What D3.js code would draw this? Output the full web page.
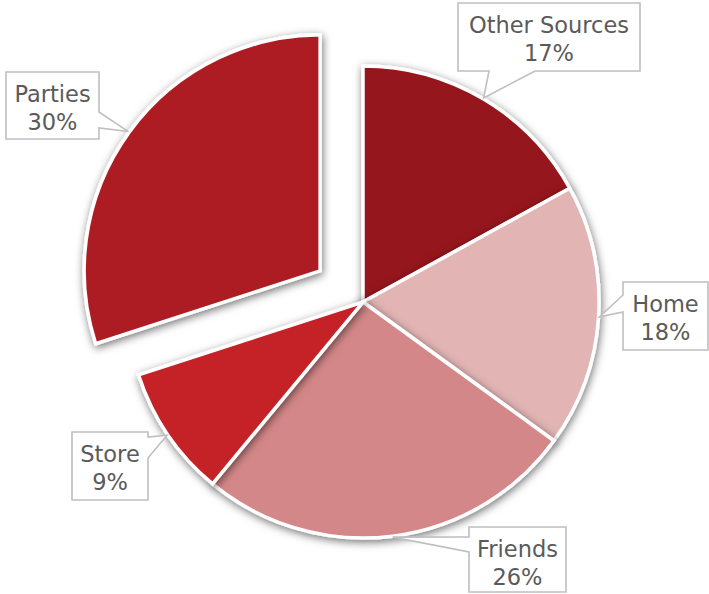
<!DOCTYPE html>
<html>
<head>
<meta charset="utf-8">
<script src="https://cdn.jsdelivr.net/npm/d3@7"></script>
<style>
  html, body { margin: 0; padding: 0; background: #fff; }
  svg { display: block; }
</style>
</head>
<body>
<svg id="chart" width="709" height="594"></svg>
<script>
// Where the party-goers get their supply, share of responses
const categories = ["Other Sources", "Home", "Friends", "Store", "Parties"];
const values = [17, 18, 26, 9, 30];
const percentLabels = ["17%", "18%", "26%", "9%", "30%"];

// Slice colours, one per category
const colors = ["#95171a", "#e2b4b4", "#d48788", "#c42326", "#ad1e20"];

// Slice pulled out of the pie
const explodedCategory = "Parties";

// Callout boxes: rectangle, the side the pointer leaves from, and the pointer base along that side
const callouts = {
  "Other Sources": { x0: 458, y0: 3,   x1: 640, y1: 71,  side: "bottom", b0: 489, b1: 535 },
  "Home":          { x0: 623, y0: 282, x1: 708, y1: 350, side: "left",   b0: 295, b1: 312 },
  "Friends":       { x0: 469, y0: 527, x1: 566, y1: 592, side: "left",   b0: 537, b1: 552 },
  "Store":         { x0: 72,  y0: 432, x1: 148, y1: 500, side: "right",  b0: 437, b1: 458 },
  "Parties":       { x0: 6,   y0: 72,  x1: 99,  y1: 139, side: "right",  b0: 112, b1: 128 }
};

const cx = 363, cy = 302, radius = 236, explode = 53;

const svg = d3.select("#chart");

const defs = svg.append("defs");
const shadow = defs.append("filter")
  .attr("id", "sliceShadow")
  .attr("x", "-20%").attr("y", "-20%")
  .attr("width", "140%").attr("height", "140%");
shadow.append("feDropShadow")
  .attr("dx", 1).attr("dy", 2.5)
  .attr("stdDeviation", 4)
  .attr("flood-color", "#000")
  .attr("flood-opacity", 0.55);

const data = categories.map((c, i) => ({ category: c, value: values[i], label: percentLabels[i], color: colors[i] }));

const pie = d3.pie().sort(null).value(d => d.value).startAngle(0).endAngle(2 * Math.PI);
const arcs = pie(data);

const arc = d3.arc().innerRadius(0).outerRadius(radius);

function offsetFor(a) {
  if (a.data.category !== explodedCategory) return [0, 0];
  const mid = (a.startAngle + a.endAngle) / 2;
  return [Math.sin(mid) * explode, -Math.cos(mid) * explode];
}

const pieG = svg.append("g").attr("transform", `translate(${cx},${cy})`);

pieG.selectAll("path.slice")
  .data(arcs)
  .join("path")
  .attr("class", "slice")
  .attr("transform", a => { const o = offsetFor(a); return `translate(${o[0]},${o[1]})`; })
  .attr("d", arc)
  .attr("fill", a => a.data.color)
  .attr("stroke", "#fff")
  .attr("stroke-width", 3.5)
  .attr("stroke-linejoin", "miter")
  .attr("filter", "url(#sliceShadow)");

// Callouts with pointers to the slice edge at its mid-angle
const labelG = svg.append("g");

arcs.forEach(a => {
  const box = callouts[a.data.category];
  const mid = (a.startAngle + a.endAngle) / 2;
  const o = offsetFor(a);
  const tip = [cx + o[0] + Math.sin(mid) * (radius + 1), cy + o[1] - Math.cos(mid) * (radius + 1)];

  const { x0, y0, x1, y1, side, b0, b1 } = box;
  let pts;
  if (side === "bottom") {
    pts = [[x0, y0], [x1, y0], [x1, y1], [b1, y1], tip, [b0, y1], [x0, y1]];
  } else if (side === "left") {
    pts = [[x0, y0], [x1, y0], [x1, y1], [x0, y1], [x0, b1], tip, [x0, b0]];
  } else if (side === "right") {
    pts = [[x0, y0], [x1, y0], [x1, b0], tip, [x1, b1], [x1, y1], [x0, y1]];
  } else {
    pts = [[x0, y0], [b0, y0], tip, [b1, y0], [x1, y0], [x1, y1], [x0, y1]];
  }

  labelG.append("path")
    .attr("d", d3.line()(pts) + "Z")
    .attr("fill", "#fff")
    .attr("stroke", "#bfbfbf")
    .attr("stroke-width", 1.6)
    .attr("stroke-linejoin", "miter");

  const tx = (x0 + x1) / 2;
  const t = labelG.append("text")
    .attr("x", tx)
    .attr("text-anchor", "middle")
    .attr("font-family", "'DejaVu Sans', sans-serif")
    .attr("font-size", 22.5)
    .attr("fill", "#5a5a5a");
  t.append("tspan").attr("x", tx).attr("y", y0 + 29.5).text(a.data.category);
  t.append("tspan").attr("x", tx).attr("y", y0 + 57.5).text(a.data.label);
});
</script>
</body>
</html>
